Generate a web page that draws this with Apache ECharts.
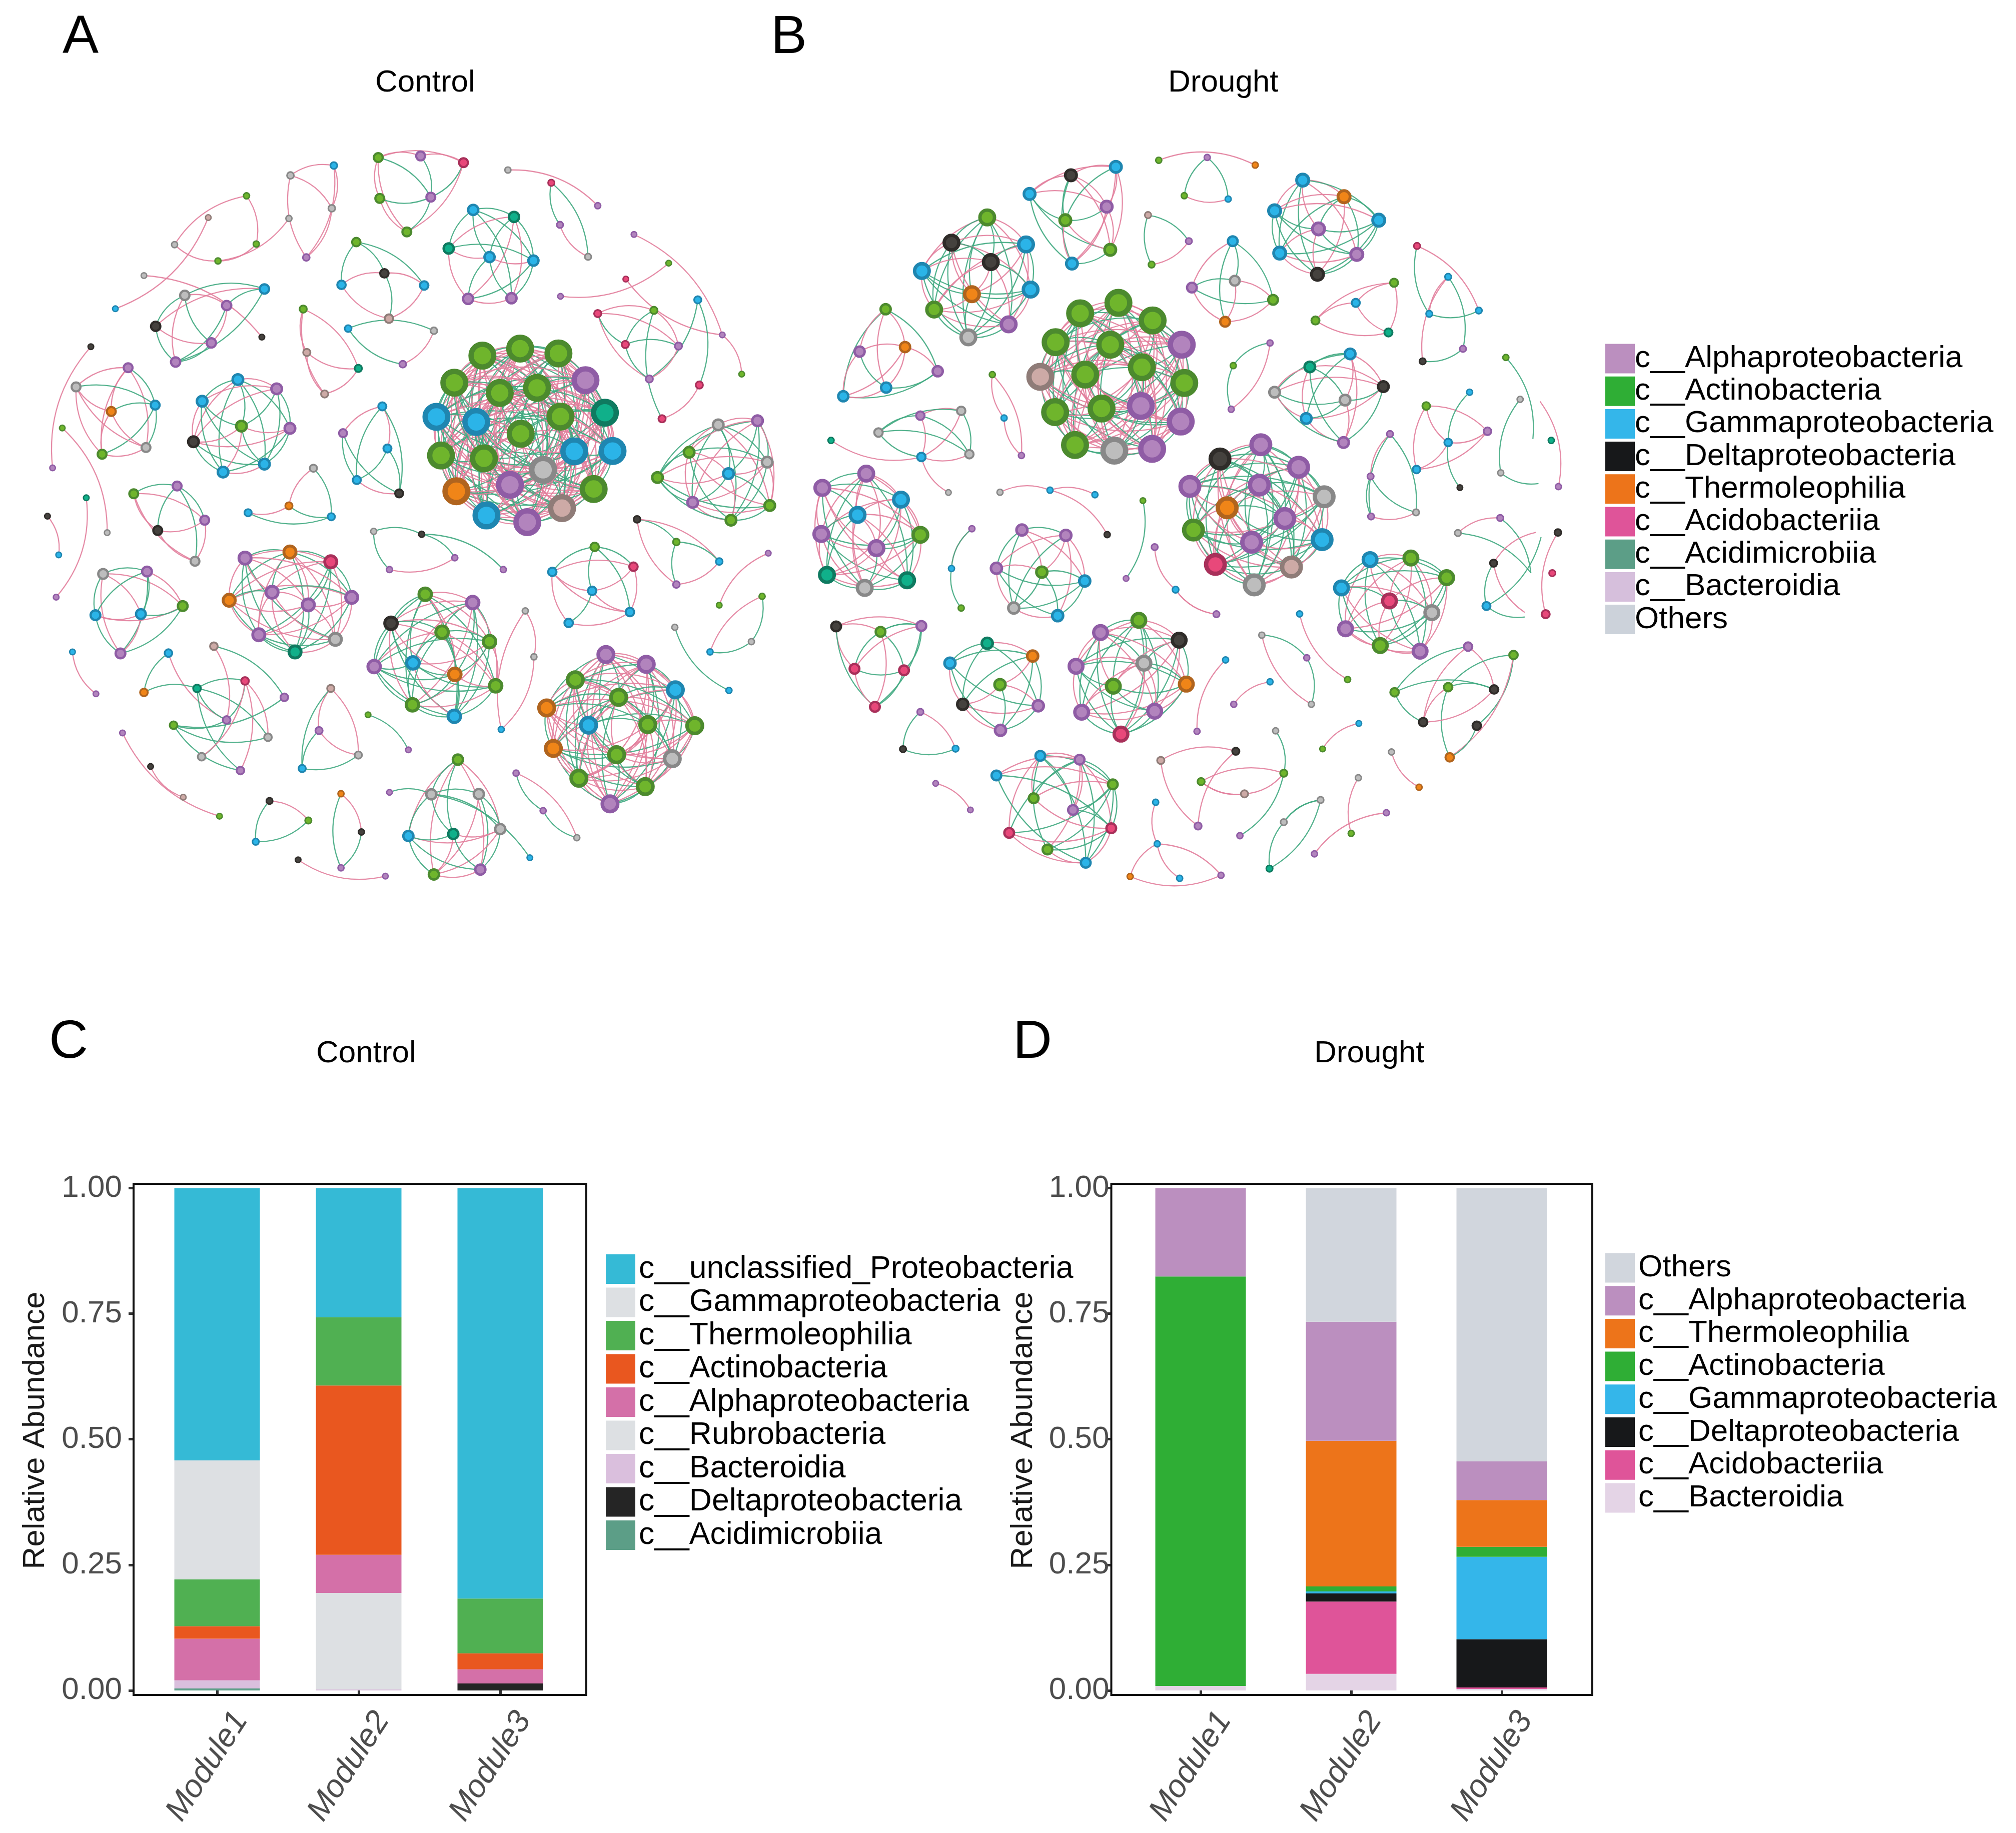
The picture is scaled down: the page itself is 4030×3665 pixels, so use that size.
<!DOCTYPE html>
<html><head><meta charset="utf-8">
<style>html,body{margin:0;background:#fff}#c{width:4030px;height:3665px}</style>
<script src="https://cdn.jsdelivr.net/npm/echarts@6/dist/echarts.min.js"></script>
</head><body><div id="c"></div>
<script>
// ---------- panel C / D values ----------
const moduleLabels = ['Module1','Module2','Module3'];
const tickValues = [0,0.25,0.5,0.75,1];
const controlNames = ['c__Acidimicrobiia','c__Deltaproteobacteria','c__Bacteroidia','c__Rubrobacteria','c__Alphaproteobacteria','c__Actinobacteria','c__Thermoleophilia','c__Gammaproteobacteria','c__unclassified_Proteobacteria'];
const controlColors = ['#5C9E87','#252525','#DABFDD','#DDE0E3','#D470A8','#E9571F','#50B052','#DDE0E3','#35BAD6'];
const controlValues = [[.004,0,0],[0,0,.014],[.016,.002,0],[0,.192,0],[.083,.076,.028],[.025,.337,.032],[.093,.136,.109],[.237,0,0],[.542,.257,.817]];
const droughtNames = ['c__Bacteroidia','c__Acidobacteriia','c__Deltaproteobacteria','c__Gammaproteobacteria','c__Actinobacteria','c__Thermoleophilia','c__Alphaproteobacteria','Others'];
const droughtColors = ['#E4D4E6','#DF5499','#17181A','#34B6EA','#2FAE35','#ED741A','#BB8FBF','#D1D6DD'];
const droughtValues = [[.009,.033,.003],[0,.144,.003],[0,.016,.096],[0,.004,.164],[.815,.010,.020],[0,.290,.093],[.176,.237,.077],[0,.266,.544]];
const networkLegendNames = ['c__Alphaproteobacteria','c__Actinobacteria','c__Gammaproteobacteria','c__Deltaproteobacteria','c__Thermoleophilia','c__Acidobacteriia','c__Acidimicrobiia','c__Bacteroidia','Others'];
const networkLegendColors = ['#BB8FBF','#2FAE35','#34B6EA','#17181A','#ED741A','#DF5499','#5C9E87','#D6BFDC','#CCD2DA'];

// ---------- network nodes: [x,y,class] ; modules: [diameter,nodes,triangle signs,extra pairs] ----------
const nodeFill = {a:'#B284BD',g:'#6FB52C',b:'#2BB4E8',k:'#45423E',o:'#F08518',r:'#E8487A',t:'#10B08A',y:'#BDBDBD',q:'#CDAAA6',n:'#fff'};
const nodeRing = {a:'#8F5CA5',g:'#4C8A2E',b:'#1F86B0',k:'#2F2C29',o:'#B0641E',r:'#A8305A',t:'#0F7A60',y:'#888888',q:'#8F7C78',n:'#fff'};

const controlTop = [
 [17,[[569,550,'y'],[654,519,'b'],[650,653,'y'],[600,807,'a']],'','01p 02p 03p 12p 13p 23p'],
 [22,[[741,494,'g'],[824,489,'a'],[908,510,'r'],[844,618,'a'],[797,727,'g'],[744,622,'g']],'ppgpp pg.. gp. gg p'],
 [25,[[927,658,'b'],[1007,680,'t'],[1045,817,'b'],[1002,935,'a'],[917,937,'a'],[879,779,'t'],[959,806,'b']],'ggg.gg gpppg gggp p.g pg p'],
 [21,[[698,759,'g'],[831,895,'b'],[762,999,'q'],[669,893,'b'],[753,857,'k']],'g.gg p.p pg p'],
 [15,[[995,533,'y'],[1171,645,'a']],'','01p'],
 [16,[[1080,573,'r'],[1097,705,'a'],[1152,805,'y']],'','01g 02g 12p'],
 [14,[[1242,735,'a'],[1415,1050,'a'],[1453,1173,'g'],[1226,875,'r']],'','01p 12p 31p'],
 [14,[[1310,825,'g'],[1098,929,'a']],'','01p'],
 [18,[[1171,983,'r'],[1281,973,'g'],[1329,1085,'a'],[1272,1188,'a'],[1225,1080,'r'],[1367,940,'b'],[1370,1207,'r'],[1297,1313,'r']],'','01p 02p 03p 04g 12p 14g 42g 43g 53g 56g 32p 67p 17g'],
 [15,[[483,614,'g'],[342,767,'y'],[502,765,'g'],[427,818,'g'],[566,685,'y']],'','01p 02p 13p 23p 34p'],
 [14,[[408,682,'q'],[226,968,'b']],'','01p'],
 [14,[[282,864,'y'],[513,1057,'k']],'','01p'],
 [23,[[518,906,'b'],[362,926,'y'],[444,958,'a'],[414,1075,'a'],[344,1135,'a'],[305,1023,'k']],'gg.gp pgpg pg. gp g'],
 [18,[[594,969,'g'],[702,1155,'t'],[636,1235,'q'],[601,1105,'q']],'ppp pp p'],
 [17,[[682,1030,'b'],[850,1037,'y'],[789,1142,'a']],'','01g 02g 12p'],
 [14,[[103,1467,'a'],[178,1087,'k']],'','01p'],
 [22,[[251,1153,'a'],[304,1270,'b'],[286,1403,'y'],[200,1424,'g'],[149,1213,'y'],[218,1290,'o']],'gpppp gggg ppp pp p'],
 [14,[[122,1342,'g'],[210,1670,'y']],'','01p'],
 [26,[[466,1190,'b'],[542,1219,'a'],[568,1343,'a'],[518,1455,'b'],[437,1480,'b'],[379,1385,'k'],[396,1258,'b'],[473,1336,'g']],'pgggpgg gg.ppg ggp.p pggg ggp pp g'],
 [20,[[749,1274,'b'],[759,1406,'b'],[782,1547,'k'],[699,1505,'b'],[672,1358,'a']],'pggp gg. pg g'],
 [56,[[945,1115,'g'],[1019,1093,'g'],[1094,1108,'g'],[1147,1192,'a'],[1185,1294,'t'],[1200,1414,'b'],[1163,1533,'g'],[1101,1593,'q'],[1033,1637,'a'],[953,1616,'b'],[894,1540,'o'],[864,1428,'g'],[855,1307,'b'],[890,1200,'g'],[979,1232,'g'],[1052,1216,'g'],[1098,1306,'g'],[1125,1415,'b'],[1064,1473,'y'],[999,1520,'a'],[948,1437,'g'],[933,1323,'b'],[1020,1360,'g']],
  'pgpgppgpgppgpppgpgpgpp gppgpgpppgppgpgpgppgp pgppgpgpgpppgppgpgpg gpgpppgpgppgppgpgpp ppgpgpgppgpgpppgpg gpppgpgpgppgpgpgp pgpgppgppgpgpppg gppgpgpgppgppgp pgpgppgpgpgppg ppgpgpppgpgpg gpgppgpgppgp pgppgpgpgpp gpgpgppgpg ppgpgpgpp gppgpgpg pgpgppg gpgppg ppgpg gpgp pgp gp p'],
 [26,[[1407,1332,'y'],[1484,1319,'a'],[1503,1449,'y'],[1508,1585,'g'],[1432,1631,'g'],[1357,1575,'a'],[1288,1497,'g'],[1350,1418,'g'],[1427,1485,'b']],'pgpgggpg gpgpgpg pgppgp gpgpg pggp gpg gp p'],
];
const controlBottom = [
 [22,[[262,65,'g'],[347,38,'a'],[401,157,'a'],[382,300,'y'],[309,193,'k']],'gppp ggg pp p'],
 [18,[[614,-24,'y'],[649,145,'b'],[566,107,'o'],[486,131,'b']],'gp. gg p'],
 [14,[[169,79,'t'],[110,425,'a']],'','01p'],
 [14,[[93,143,'k'],[115,278,'b']],'','01p'],
 [15,[[732,196,'y'],[826,206,'k'],[891,288,'a'],[986,329,'a'],[763,329,'a']],'','01g 04g 12g 13g 42p'],
 [17,[[1248,154,'k'],[1325,233,'g'],[1409,301,'b'],[1325,381,'a']],'','01g 02p 03p 12g 13g 23p'],
 [21,[[1165,250,'g'],[1241,319,'r'],[1234,477,'b'],[1114,515,'b'],[1082,337,'b'],[1160,403,'b']],'gg.gg p.pp ppp pg p'],
 [14,[[1409,453,'g'],[1505,272,'a']],'','01p'],
 [15,[[1493,422,'g'],[1472,580,'y'],[1391,616,'b'],[1322,530,'y'],[1428,750,'b']],'','02p 01g 12g 34g'],
 [24,[[202,344,'y'],[288,336,'a'],[358,456,'g'],[236,621,'a'],[187,488,'b'],[276,484,'b']],'gppgp pggg gpg gp p'],
 [30,[[568,268,'o'],[648,302,'r'],[689,426,'a'],[657,572,'y'],[578,616,'t'],[507,556,'a'],[449,436,'o'],[480,289,'a'],[533,408,'a'],[604,452,'a']],'ggpgpgggp gpggpppg pgpppgp pgpgpp gggpg pgpp pgp pp p'],
 [31,[[833,415,'g'],[926,444,'a'],[959,580,'g'],[971,734,'g'],[890,840,'b'],[808,800,'g'],[733,667,'a'],[766,516,'k'],[866,547,'g'],[809,654,'b'],[891,694,'o']],'ppgggggpgp gpgpgpgpg pgpgpgpg gpgppgp ggggpg gpggg gpgg ggp gg g'],
 [15,[[1029,473,'y'],[1046,633,'y'],[982,886,'b']],'','01p 12p 02p'],
 [38,[[1187,625,'a'],[1266,659,'a'],[1323,748,'b'],[1361,873,'g'],[1317,988,'y'],[1264,1085,'g'],[1195,1145,'a'],[1134,1056,'g'],[1084,952,'o'],[1071,811,'o'],[1127,713,'g'],[1212,774,'g'],[1153,871,'b'],[1269,869,'g'],[1208,974,'g']],
  'ppgpppgpgpgppg gppgpgpgpppgp pgpgpgppgpgp gpppgpgpgpp pgpgppgpgp gpgpppgpg pgppgppg ppgpgpp gpgppg pgpgp gppg pgp gp p'],
 [14,[[188,762,'a'],[142,616,'b']],'','01p'],
 [19,[[330,620,'b'],[282,757,'o'],[386,743,'t'],[480,717,'r'],[557,774,'a'],[419,596,'q'],[444,853,'a'],[340,871,'g'],[525,913,'y'],[395,981,'y'],[471,1029,'a']],'','01g 06p 12g 23g 26g 28g 2ag 36g 3ap 38p 56p 54g 76g 78g 7ag 74g 96g 93p'],
 [18,[[648,743,'q'],[625,890,'a'],[702,975,'y'],[592,1022,'b']],'','01p 02p 03g 12p 13g 23g'],
 [14,[[721,835,'g'],[800,957,'a']],'','01g'],
 [14,[[430,1188,'g'],[240,898,'a']],'','01p'],
 [14,[[359,1122,'q'],[295,1015,'k']],'','01p'],
 [16,[[528,1135,'k'],[604,1203,'g'],[501,1277,'b']],'','01p 02g 12g'],
 [15,[[668,1110,'o'],[708,1243,'k'],[668,1368,'a']],'','01p 02g 12g'],
 [14,[[755,1397,'a'],[584,1340,'k']],'','01p'],
 [25,[[897,991,'g'],[938,1111,'y'],[980,1233,'y'],[941,1374,'a'],[850,1391,'g'],[800,1257,'b'],[845,1112,'y'],[888,1250,'t'],[763,1105,'a',14],[1038,1333,'b',14]],'','02p 03p 04p 05p 06g 07g 12g 13g 14p 16g 23g 24p 25p 26g 27p 34p 37g 35g 45g 47p 56g 57g 67g 68g 69g'],
 [15,[[1011,1038,'a'],[1064,1169,'a'],[1130,1263,'y']],'','01g 12g 02p'],
];
const droughtTop = [
 [28,[[498,270,'b'],[579,197,'k'],[667,164,'b'],[649,320,'a'],[656,489,'g'],[581,543,'b'],[568,373,'g']],'pppggg pppgg pppg ppg gp p'],
 [15,[[751,138,'g'],[940,157,'o']],'','01p'],
 [15,[[846,127,'a'],[887,290,'b'],[801,277,'g']],'','01g 02g 21p'],
 [30,[[1033,216,'b'],[1114,281,'o'],[1182,373,'b'],[1139,507,'a'],[1062,585,'k'],[988,502,'b'],[978,336,'b'],[1064,407,'a']],'pgpggpp ggpgpg gggpg gpgg pgp gp g'],
 [36,[[415,362,'g'],[491,468,'b'],[500,645,'b'],[457,781,'a'],[378,832,'y'],[311,723,'g'],[287,572,'b'],[345,461,'k'],[422,537,'k'],[385,663,'o']],'ppgggpggg gpgpgpgp pgpgpgg gpgppg ggggg pgpp ppg gp p'],
 [16,[[730,353,'q'],[810,455,'a'],[737,547,'g']],'','01g 02g 12p'],
 [24,[[896,455,'b'],[975,685,'g'],[881,771,'o'],[816,637,'a'],[900,610,'y']],'ggpg pgp pp g'],
 [16,[[1257,474,'r'],[1378,727,'b'],[1347,877,'a'],[1268,926,'k'],[1281,740,'b'],[1318,595,'b']],'','01p 04g 54p 53p 52g 41g 23g'],
 [20,[[1212,618,'g'],[1137,697,'b'],[1201,813,'t'],[1058,766,'g']],'','01p 02p 03p 12p 13p 23p'],
 [25,[[216,722,'g'],[254,870,'o'],[318,965,'a'],[217,1029,'b'],[133,1063,'b'],[165,888,'a']],'pgpgp pppp gg. pg p'],
 [56,[[672,697,'g'],[739,766,'g'],[796,861,'a'],[801,1011,'g'],[794,1162,'a'],[738,1269,'a'],[664,1276,'y'],[587,1254,'g'],[548,1125,'g'],[519,987,'q'],[549,851,'g'],[597,738,'g'],[656,861,'g'],[718,949,'g'],[716,1101,'a'],[639,1111,'g'],[607,978,'g']],
  'pppgppgpgppgpgpp gpgpppgpgppgppg pgpgpgppgpgpgp ppgpgpgpppgpg gpppgpgpgpgp pgpgppgpppg gppgpgpgpp pgpgpppgp ppgppgpg gpgpppg pgpgpp ppgpg gppg pgp gp p'],
 [15,[[969,854,'a'],[897,943,'g'],[893,1114,'a']],'','01g 02p 12g'],
 [15,[[425,978,'g'],[448,1148,'b'],[482,1295,'a']],'','01p 02p 12p'],
 [26,[[1126,897,'b'],[1191,1025,'k'],[1113,1244,'a'],[1040,1150,'b'],[978,1047,'y'],[1047,948,'t'],[1116,1078,'y']],'ppgggp gpppg pggp ppg pg g'],
 [19,[[1275,1101,'g'],[1395,1200,'a'],[1318,1244,'b'],[1256,1350,'b'],[1360,1047,'b',15],[1341,1421,'k',14]],'','01p 03p 02p 13p 12p 23p 24g 25g'],
 [15,[[1431,911,'g'],[1484,1230,'n'],[1459,1075,'y'],[1421,1363,'y'],[1495,1405,'n']],'','01g 23g 34g'],
 [15,[[1498,1083,'n'],[1534,1417,'a']],'','01p'],
 [15,[[1520,1236,'t']],'',''],
 [21,[[284,1139,'a'],[364,1120,'y'],[380,1290,'y'],[286,1301,'b'],[202,1205,'y'],[109,1236,'t',15],[339,1440,'y',14]],'','01p 04g 02g 03p 14g 12g 13p 23p 43g 42g 53p 36p'],
 [15,[[440,1439,'y'],[538,1431,'b'],[626,1449,'b'],[650,1605,'k']],'','01p 12p 13p'],
 [14,[[720,1472,'g'],[687,1777,'a']],'','01g'],
 [16,[[1204,1211,'a'],[1166,1377,'a'],[1167,1534,'a'],[1255,1518,'y']],'','01p 02g 03g 13g 12g 23p'],
];
const droughtBottom = [
 [36,[[178,-104,'a'],[246,-2,'b'],[284,136,'g'],[258,314,'t'],[175,344,'y'],[101,293,'t'],[90,133,'a'],[92,-48,'a'],[161,58,'b'],[198,188,'a']],'ppgpgpgpp pgpppgpg pgpgppg gpgppp gpgpg ppgp pgp gp p'],
 [46,[[951,-217,'a'],[1025,-129,'a'],[1075,-13,'y'],[1071,155,'b'],[1011,262,'q'],[938,332,'y'],[862,252,'r'],[819,117,'g'],[812,-54,'a'],[871,-161,'k'],[948,-59,'a'],[885,30,'o'],[998,72,'a'],[933,165,'a']],
  'ggpggpggpgpgg gpgpgpggpgpg pgpgpgpgpgg gpggpgpgpp pgpgpgpgp gpgpgpgg pgggpgp gpgpgg pgpgp gpgp pgg gp p'],
 [15,[[385,112,'a'],[345,268,'b'],[364,423,'g']],'','01p 01g 12g'],
 [27,[[483,117,'a'],[569,138,'a'],[606,317,'b'],[553,453,'b'],[467,423,'y'],[433,267,'a'],[522,282,'g']],'gp.ggp ppgpp gggg pgg pg p'],
 [16,[[743,184,'a'],[784,351,'b'],[864,447,'a']],'','01p 12p 12p'],
 [34,[[1165,233,'b'],[1245,227,'g'],[1315,304,'g'],[1286,441,'y'],[1263,592,'a'],[1185,570,'g'],[1117,504,'a'],[1109,344,'b'],[1203,395,'r']],'pgpggpgp gpgppgpg pgpgppg gpgppp gpgpg pggp gpg gp'],
 [16,[[1337,129,'y'],[1420,70,'a'],[1480,285,'n'],[1407,247,'k',18],[1490,126,'n'],[1468,440,'n'],[1393,415,'b',20],[1468,458,'n'],[1500,145,'n']],'','01p 02g 12g 34p 35p 36g 67g 68g'],
 [17,[[1509,447,'r',20],[1533,127,'k']],'','01p'],
 [16,[[1522,286,'r']],'',''],
 [24,[[119,495,'k'],[206,516,'g'],[286,493,'a'],[252,667,'r'],[155,661,'r'],[195,810,'r']],'','01p 02p 12g 12g 13g 04p 23g 24p 43g 05g 25g 15p 45p 35g 14g'],
 [27,[[415,561,'t'],[504,611,'o'],[515,806,'a'],[441,902,'a'],[367,800,'k'],[342,639,'b'],[440,723,'g']],'pg.gg. ggggp gpg ppg gp p'],
 [34,[[712,471,'g'],[791,549,'k'],[805,721,'o'],[743,827,'a'],[677,917,'r'],[600,831,'a'],[589,651,'a'],[637,519,'a'],[722,639,'y'],[662,729,'g']],'ppgggpggg gpgpgpgp pgpgpgg gpgppg gggpg pgpp ppg gp p'],
 [16,[[284,830,'a'],[353,974,'b'],[250,976,'k']],'','01p 02g 21g'],
 [15,[[953,529,'y'],[1041,618,'a'],[1050,800,'y']],'','01g 02p 12g'],
 [15,[[1121,703,'g'],[1027,446,'b']],'','01p'],
 [15,[[898,800,'a'],[969,712,'b']],'','01p'],
 [15,[[826,906,'a'],[882,626,'b']],'','01p'],
 [21,[[1357,574,'a'],[1446,607,'g'],[1408,742,'k'],[1374,884,'k'],[1321,1008,'o'],[1269,870,'k'],[1213,753,'g'],[1318,733,'g']],'','60g 05p 02p 13g 17g 14p 62g 65g 72g 75p 74g 34g 25p'],
 [24,[[519,1002,'b'],[596,1017,'a'],[661,1114,'g'],[658,1286,'r'],[608,1421,'b'],[533,1369,'g'],[458,1304,'r'],[433,1079,'b'],[506,1168,'g'],[583,1214,'a']],'pg.gg p.pgg pgpgp gpg gg g ppgpgpgpgppg'],
 [18,[[755,1020,'q'],[902,984,'k'],[834,1103,'g'],[919,1151,'q'],[996,1070,'g'],[828,1277,'a'],[980,904,'y',15],[910,1315,'a',15]],'','01p 05p 15p 23p 23p 43p 24p 64g 47g'],
 [14,[[1072,975,'g'],[1143,875,'b']],'','01p'],
 [15,[[1261,1125,'o'],[1207,987,'y']],'','01p'],
 [15,[[1128,1306,'g'],[1142,1088,'y']],'','01p'],
 [15,[[1056,1386,'a'],[1197,1225,'a']],'','01p'],
 [16,[[1068,1175,'y'],[996,1262,'y'],[968,1444,'t']],'','01g 01g 12g 02g'],
 [15,[[745,1184,'b'],[748,1347,'b'],[695,1475,'o'],[792,1482,'b'],[873,1470,'a']],'','01p 12p 13p 14p 24p'],
 [14,[[314,1110,'a'],[382,1214,'a']],'','01p'],
];

// ---------- layout frames for the hidden network axes ----------
const frames = [
 {left:0,top:0,width:1600,height:1000,mods:controlTop},
 {left:0,top:950,width:1600,height:900,mods:controlBottom},
 {left:1550,top:250,width:1600,height:800,mods:droughtTop},
 {left:1550,top:1000,width:1600,height:800,mods:droughtBottom},
];
const FONT = '"Liberation Sans",Arial,sans-serif';
const EDGE = {p:'#E27E9C',g:'#3FA880'};

function moduleLinks(mod){
  const [,nodes,tri,extra] = mod, out=[];
  const t=(tri||'').replace(/\s/g,''); let k=0;
  for(let i=0;i<nodes.length;i++) for(let j=i+1;j<nodes.length;j++){
    const c=t[k++]; if(c==='p'||c==='g') out.push([i,j,c]);
  }
  (extra||'').split(/\s+/).filter(Boolean).forEach(tok=>out.push([parseInt(tok[0],36),parseInt(tok[1],36),tok[2]]));
  return out;
}
function graphSeries(frame,idx){
  const sx=frame.width/1568, sy=frame.height/1568, data=[], links=[];
  frame.mods.forEach(mod=>{
    const base=data.length, s=mod[0], nodes=mod[1];
    let cx=0,cy=0; nodes.forEach(n=>{cx+=n[0]*sx;cy+=n[1]*sy}); cx/=nodes.length; cy/=nodes.length;
    nodes.forEach(n=>{
      const size=n[3]||s, bw=Math.max(1.8,size*0.19), hidden=n[2]==='n';
      data.push({value:[n[0],n[1]],symbolSize:hidden?0.01:size-bw,
        itemStyle:{color:nodeFill[n[2]],borderColor:nodeRing[n[2]],borderWidth:hidden?0:bw}});
    });
    moduleLinks(mod).forEach(([a,b,c])=>{
      if(!nodes[a]||!nodes[b]) return;
      const x1=nodes[a][0]*sx,y1=nodes[a][1]*sy,x2=nodes[b][0]*sx,y2=nodes[b][1]*sy;
      const dot=(y2-y1)*((x1+x2)/2-cx)+(x1-x2)*((y1+y2)/2-cy);
      const [p,q]=dot>=0?[a,b]:[b,a];
      links.push({source:base+p,target:base+q,lineStyle:{color:EDGE[c],width:2.3,opacity:.9,curveness:.22}});
    });
  });
  return {type:'graph',name:'network'+idx,coordinateSystem:'cartesian2d',xAxisIndex:idx,yAxisIndex:idx,layout:'none',
    silent:true,roam:false,label:{show:false},data,links,animation:false};
}

// ---------- axes ----------
const grid=[],xAxis=[],yAxis=[],series=[];
frames.forEach((f,i)=>{
  grid.push({left:f.left,top:f.top,width:f.width,height:f.height,show:false});
  xAxis.push({type:'value',gridIndex:i,min:0,max:1568,show:false});
  yAxis.push({type:'value',gridIndex:i,min:0,max:1568,inverse:true,show:false});
  series.push(graphSeries(f,i));
});
function barPanel(box,innerLeft,innerWidth,names,colors,values,barW,stack){
  const gi=grid.length;
  grid.push({left:innerLeft,top:box.top,width:innerWidth,height:box.height,show:false});
  xAxis.push({type:'category',gridIndex:gi,data:moduleLabels,
    axisLine:{show:false},axisTick:{show:true,alignWithLabel:true,length:11,lineStyle:{color:'#333',width:5}},
    axisLabel:{rotate:57,fontSize:64,fontFamily:FONT,fontStyle:'italic',color:'#4d4d4d',margin:9,interval:0,align:'right',verticalAlign:'top',padding:[25,0,0,0]}});
  yAxis.push({type:'value',gridIndex:gi,min:-0.009,max:1.0085,offset:innerLeft-box.left,name:'Relative Abundance',nameLocation:'middle',
    nameGap:box.nameGap,nameTextStyle:{fontSize:62,fontFamily:FONT,color:'#1a1a1a',padding:[0,0,0,36]},
    splitLine:{show:false},axisLine:{show:false},
    axisTick:{show:true,length:10,lineStyle:{color:'#333',width:5},customValues:tickValues},
    axisLabel:{fontSize:62,fontFamily:FONT,color:'#4d4d4d',margin:box.labelMargin,customValues:tickValues,formatter:v=>v.toFixed(2)}});
  names.forEach((n,i)=>series.push({type:'bar',name:n,stack,xAxisIndex:gi,yAxisIndex:gi,data:values[i],barWidth:barW,
    itemStyle:{color:colors[i]},animation:false,silent:true}));
  const bi=grid.length;
  grid.push({left:box.left,top:box.top,width:box.width,height:box.height,show:true,borderColor:'#111',borderWidth:4,backgroundColor:'transparent',z:5});
  xAxis.push({type:'value',gridIndex:bi,show:false,min:0,max:1});
  yAxis.push({type:'value',gridIndex:bi,show:false,min:0,max:1});
}
barPanel({left:267,top:2367,width:905,height:1022,nameGap:165,labelMargin:23},292.5,849,controlNames,controlColors,controlValues,171,'C');
barPanel({left:2221.5,top:2367,width:961.5,height:1022,nameGap:145,labelMargin:4},2249.5,903,droughtNames,droughtColors,droughtValues,181,'D');

function legendOf(left,top,names,colors,gap,textPad,size){
  return {orient:'vertical',left,top,padding:0,itemWidth:59,itemHeight:59,itemGap:gap,selectedMode:false,icon:'rect',
    textStyle:{fontSize:size,lineHeight:56,fontFamily:FONT,color:'#000',padding:[0,0,0,textPad]},
    data:names.map((n,i)=>({name:n,icon:'rect',itemStyle:{color:colors[i],borderWidth:0}}))};
}
const revC=[...controlNames].reverse(), revCc=[...controlColors].reverse();
const revD=[...droughtNames].reverse(), revDc=[...droughtColors].reverse();
const legend=[
  legendOf(3209,686,networkLegendNames,networkLegendColors,3.2,-5,62),
  legendOf(1211,2506,revC,revCc,3.5,2,62.5),
  legendOf(3209,2504,revD,revDc,3.7,2,62),
];
function t(text,left,top,size){return {text,left,top,padding:0,textStyle:{fontSize:size,fontWeight:'normal',fontFamily:FONT,color:'#000'}};}
const title=[t('A',125,22,108),t('B',1541,22,108),t('C',98,2031,108),t('D',2025,2031,108),
  t('Control',750,135,62),t('Drought',2335,135,62),t('Control',632,2076,62),t('Drought',2627,2076,62)];

const chart=echarts.init(document.getElementById('c'),null,{renderer:'canvas',width:4030,height:3665});
chart.setOption({backgroundColor:'#fff',animation:false,title,legend,grid,xAxis,yAxis,series,tooltip:{show:false}});
</script></body></html>
